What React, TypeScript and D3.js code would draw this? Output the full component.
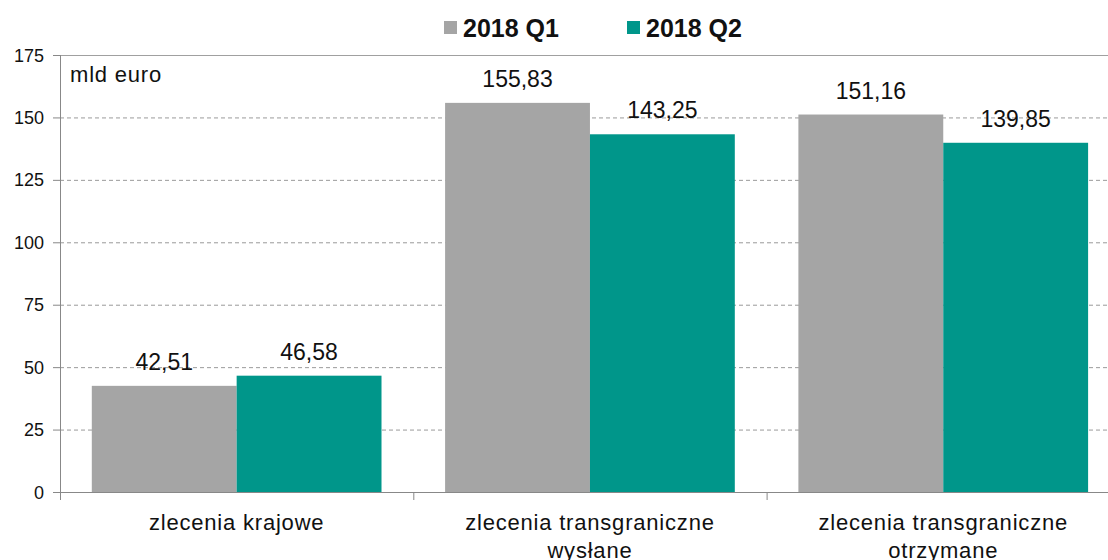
import React from "react";
import * as d3 from "d3";

const categories: string[][] = [
  ["zlecenia krajowe"],
  ["zlecenia transgraniczne", "wysłane"],
  ["zlecenia transgraniczne", "otrzymane"],
];
const seriesNames = ["2018 Q1", "2018 Q2"];
const q1Values = [42.51, 155.83, 151.16];
const q2Values = [46.58, 143.25, 139.85];
const yTicks = [0, 25, 50, 75, 100, 125, 150, 175];
const colors = ["#A5A5A5", "#00968A"];

const fmt = (v: number) => v.toFixed(2).replace(".", ",");

export default function App() {
  const W = 1108, H = 560;
  const left = 60, top = 55, bottom = 492;
  const step = 353.3;
  const right = left + step * 3;
  const x = d3.scaleBand<number>().domain([0, 1, 2]).range([left, right]).paddingInner(0.18).paddingOuter(0.09);
  const sub = d3.scaleBand<number>().domain([0, 1]).range([0, x.bandwidth()]);
  const y = d3.scaleLinear().domain([0, 175]).range([bottom, top]);
  const series = [q1Values, q2Values];
  const font = "Liberation Sans, Arial, sans-serif";
  return (
    <svg width={W} height={H} style={{ position: "absolute", left: 0, top: 0, background: "#fff" }} fontFamily={font}>
      {/* grid */}
      {yTicks.filter((t) => t > 0).map((t) => (
        <line key={t} x1={left} x2={right} y1={y(t) + 0.5} y2={y(t) + 0.5}
          stroke={t === 175 ? "#A0A0A0" : "#9A9A9A"} strokeWidth={1}
          strokeDasharray={t === 175 ? undefined : "4,3"} />
      ))}
      {/* bars */}
      {series.map((vals, si) =>
        vals.map((v, ci) => (
          <rect key={`${si}-${ci}`} x={(x(ci) as number) + (sub(si) as number)} y={y(v)}
            width={sub.bandwidth()} height={bottom - y(v)} fill={colors[si]} />
        ))
      )}
      {/* value labels */}
      {series.map((vals, si) =>
        vals.map((v, ci) => (
          <text key={`l${si}-${ci}`} x={(x(ci) as number) + (sub(si) as number) + sub.bandwidth() / 2}
            y={y(v) - 16} textAnchor="middle" fontSize={23} fill="#111">{fmt(v)}</text>
        ))
      )}
      {/* y axis */}
      <line x1={left + 0.5} x2={left + 0.5} y1={top} y2={bottom + 8} stroke="#888" />
      {yTicks.map((t) => (
        <g key={`yt${t}`}>
          <line x1={left - 7} x2={left} y1={y(t) + 0.5} y2={y(t) + 0.5} stroke="#888" />
          <text x={left - 16} y={y(t) + 6.5} textAnchor="end" fontSize={18} fill="#111">{t}</text>
        </g>
      ))}
      {/* x axis */}
      <line x1={left} x2={right} y1={bottom + 0.5} y2={bottom + 0.5} stroke="#888" />
      {[1, 2, 3].map((i) => (
        <line key={`xt${i}`} x1={left + step * i + 0.5} x2={left + step * i + 0.5} y1={bottom} y2={bottom + 8} stroke="#888" />
      ))}
      {categories.map((lines, ci) => (
        <text key={`c${ci}`} x={(x(ci) as number) + x.bandwidth() / 2} textAnchor="middle" fontSize={22} letterSpacing={0.8} fill="#111">
          {lines.map((ln, li) => (
            <tspan key={li} x={(x(ci) as number) + x.bandwidth() / 2} y={530 + li * 28}>{ln}</tspan>
          ))}
        </text>
      ))}
      <text x={70} y={82} fontSize={22} letterSpacing={0.8} fill="#111">mld euro</text>
      {/* legend */}
      {seriesNames.map((n, i) => (
        <g key={n} transform={`translate(${444 + i * 183},21)`}>
          <rect x={0} y={0} width={13} height={13} fill={colors[i]} />
          <text x={19} y={16} fontSize={25} fontWeight="bold" fill="#111">{n}</text>
        </g>
      ))}
    </svg>
  );
}
